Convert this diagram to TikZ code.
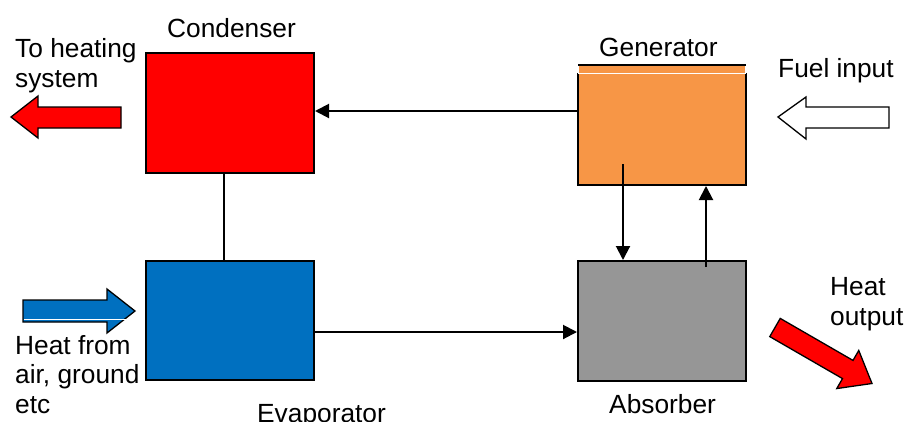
\documentclass[tikz,border=0pt]{standalone}
\usepackage{fontspec}
\setmainfont{Liberation Sans}
\usetikzlibrary{calc,arrows.meta}
\definecolor{condred}{HTML}{FF0000}
\definecolor{evapblue}{HTML}{0070C0}
\definecolor{genorange}{HTML}{F79646}
\definecolor{absgray}{HTML}{969696}
\begin{document}
\begin{tikzpicture}[x=1pt,y=-1pt,
  unit/.style={minimum width=168pt,minimum height=120pt,inner sep=0pt,line width=2pt},
  flow/.style={line width=2pt,-{Triangle[length=14pt,width=14pt]}},
  link/.style={line width=2pt},
  fat/.style={line width=1.3pt,draw=black,line join=miter},
  lbl/.style={font=\fontsize{26.3}{29.5}\selectfont,inner sep=0pt,anchor=base west,align=left}]
\useasboundingbox (0,0) rectangle (907,421);

% the four units of the cycle
\node[unit,draw,fill=condred] (cond) at (230,113) {};
\node[unit,draw,fill=evapblue,minimum height=119pt] (evap) at (230,320.5) {};
\node[unit,fill=genorange] (gen) at (662,125) {};
\node[unit,draw,fill=absgray] (abs) at (662,321) {};

% generator outline with its top strip
\draw[line width=2pt] (578,73) -- (578,185) -- (746,185) -- (746,73);
\draw[white,line width=1pt] (578.5,73) -- (578.5,65) (745.5,65) -- (745.5,73) (578,73) -- (746,73);
\draw[line width=2pt] (578,65) -- (746,65);

% connectors between units
\draw[flow] ($(gen.west)+(0,-14)$) -- ($(cond.east)+(0,-2)$);
\draw[flow] ($(evap.east)+(0,11.5)$) -- ($(abs.west)+(0,11)$);
\draw[flow] ($(gen.south)+(-39,-22)$) -- ($(abs.north)+(-39,0)$);
\draw[flow] ($(abs.north)+(44,7)$) -- ($(gen.south)+(44,0)$);
\draw[link] ($(cond.south)+(-6,0)$) -- ($(evap.north)+(-6,0)$);

% heat and fuel block arrows
\draw[fat,fill=condred] (121,107) -- (38,107) -- (38,96) -- (11,117) -- (38,138) -- (38,128) -- (121,128) -- cycle;
\draw[fat,fill=white] (889,107) -- (806,107) -- (806,97) -- (778,117) -- (806,139) -- (806,128) -- (889,128) -- cycle;
\draw[fat,fill=evapblue] (23,300) -- (107,300) -- (107,289) -- (135,311) -- (107,333) -- (107,322) -- (23,322) -- cycle;
\draw[white,line width=0.8pt] (24,319) -- (127,319);
\begin{scope}[shift={(775,327.5)},rotate=-30]
  \draw[fat,fill=condred] (0,-10.5) -- (84,-10.5) -- (84,-22) -- (112,0) -- (84,22) -- (84,10.5) -- (0,10.5) -- cycle;
\end{scope}

% labels (multi-line labels are placed by the baseline of their last line)
\node[lbl] (tcond) at (167,37) {Condenser};
\node[lbl] (theat) at (15,87) {To heating\\system};
\node[lbl] (tgen) at (599,56) {Generator};
\node[lbl] (tfuel) at (778,77) {Fuel input};
\node[lbl] (tsrc) at (15,413) {Heat from\\air, ground\\etc};
\node[lbl] (tevap) at (257,422) {Evaporator};
\node[lbl] (tabs) at (609,413) {Absorber};
\node[lbl] (tout) at (830,325) {Heat\\output};
\end{tikzpicture}
\end{document}
